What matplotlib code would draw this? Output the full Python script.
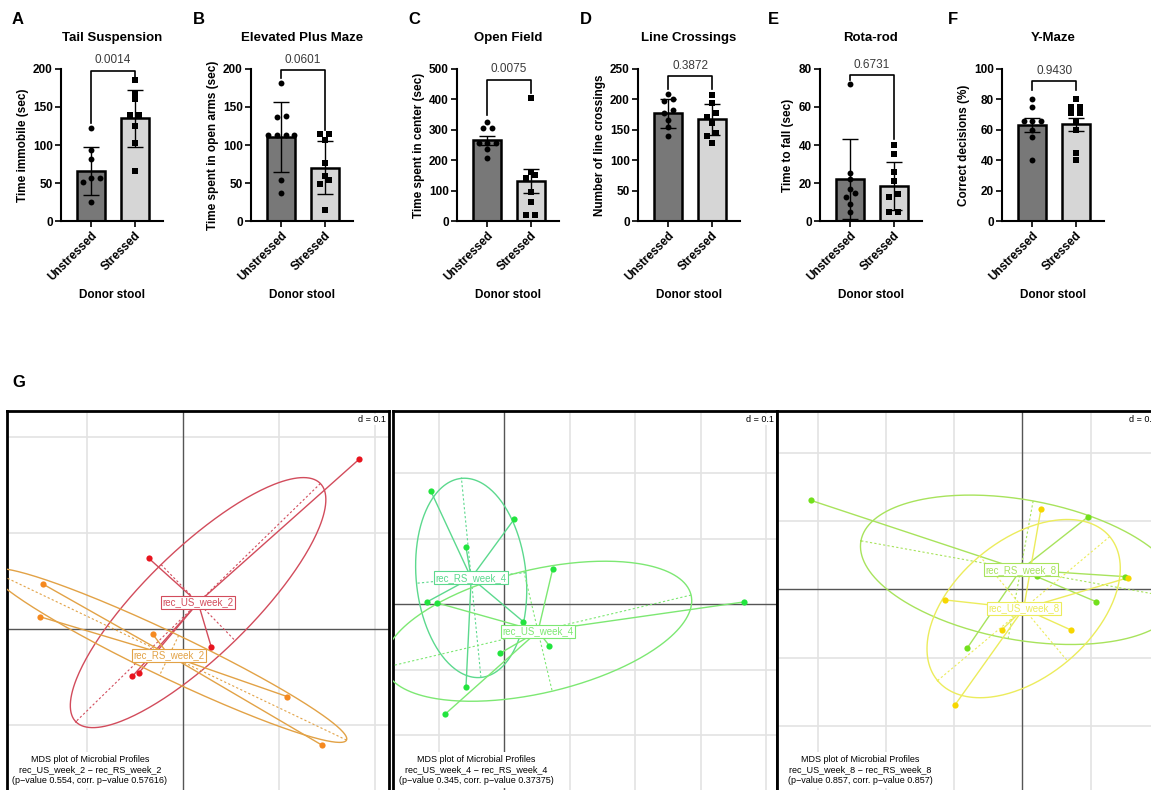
import numpy as np
import matplotlib.pyplot as plt

plt.rcParams['font.family'] = ['Liberation Sans', 'DejaVu Sans']

W, H = 1151, 790
fig = plt.figure(figsize=(W / 100, H / 100), dpi=100)


def px_box(l, t, r, b):
    return [l / W, 1 - b / H, (r - l) / W, (b - t) / H]


# ---------------- behaviour bar charts (A-F) ----------------
groups = ['Unstressed', 'Stressed']
letters = ['A', 'B', 'C', 'D', 'E', 'F']
titles = ['Tail Suspension', 'Elevated Plus Maze', 'Open Field',
          'Line Crossings', 'Rota-rod', 'Y-Maze']
ylabels = ['Time immobile (sec)', 'Time spent in open arms (sec)',
           'Time spent in center (sec)', 'Number of line crossings',
           'Time to fall (sec)', 'Correct decisions (%)']
ymaxes = [200, 200, 500, 250, 80, 100]
ysteps = [50, 50, 100, 50, 20, 20]
pvals = ['0.0014', '0.0601', '0.0075', '0.3872', '0.6731', '0.9430']

unstressed_pts = [
    [122, 94, 82, 56, 56, 51, 25],
    [181, 138, 137, 113, 113, 113, 113, 54, 37],
    [327, 305, 305, 255, 255, 255, 236, 206],
    [209, 201, 197, 182, 177, 166, 155, 140],
    [72, 25, 22, 17, 14.5, 12.5, 9, 5],
    [80, 75, 66, 66, 66, 60, 55, 40],
]
stressed_pts = [
    [186, 167, 160, 140, 140, 125, 102, 66],
    [115, 115, 107, 76, 59, 54, 49, 15],
    [404, 162, 151, 140, 96, 63, 19, 19],
    [208, 194, 177, 171, 161, 145, 140, 128],
    [40, 35, 26, 21, 14, 12.7, 5, 5],
    [80, 75, 75, 71, 71, 66, 60, 45, 40],
]
unstressed_mean = [66, 111, 265, 177, 22, 63]
stressed_mean = [135, 70, 132, 167, 18.5, 63.5]
unstressed_err = [32, 46, 15, 24, 21, 4.5]
stressed_err = [37, 35, 39, 26, 12.5, 4.5]
bracket_top = [198, 199, 465, 238, 77, 92]
bracket_left = [129, 188, 349, 217, 74, 86]
bracket_right = [190, 120, 420, 217, 43, 86]

axis_left_px = [61, 251, 457, 638, 820, 1002]
letter_x_px = [12, 193, 408, 580, 768, 948]


def spread(vals, ymax, step=0.2):
    # prism-like scatter: values that sit on top of each other are put side by side
    vals = np.asarray(vals, dtype=float)
    offs = np.zeros(len(vals))
    order = np.argsort(vals)
    tol = ymax * 0.03
    grp = [order[0]]
    for i in order[1:]:
        if vals[i] - vals[grp[0]] < tol:
            grp.append(i)
        else:
            offs[grp] = (np.arange(len(grp)) - (len(grp) - 1) / 2) * step
            grp = [i]
    offs[grp] = (np.arange(len(grp)) - (len(grp) - 1) / 2) * step
    return offs


for i in range(6):
    l = axis_left_px[i]
    ax = fig.add_axes(px_box(l, 69, l + 102, 221))
    ax.bar([0, 1], [unstressed_mean[i], stressed_mean[i]], width=0.64,
           color=['#787878', '#d6d6d6'], edgecolor='black', linewidth=1.8, zorder=2)
    ax.errorbar([0, 1], [unstressed_mean[i], stressed_mean[i]],
                yerr=[unstressed_err[i], stressed_err[i]], fmt='none',
                ecolor='black', elinewidth=1.0, capsize=5.5, capthick=1.0, zorder=3)
    u = unstressed_pts[i]
    s = stressed_pts[i]
    ax.scatter(0 + spread(u, ymaxes[i]), u, marker='o', s=18, color='black',
               linewidths=0, zorder=4, clip_on=False)
    ax.scatter(1 + spread(s, ymaxes[i]), s, marker='s', s=15, color='black',
               linewidths=0, zorder=4, clip_on=False)
    ax.plot([0, 0, 1, 1], [bracket_left[i], bracket_top[i], bracket_top[i], bracket_right[i]],
            color='black', lw=1.2, clip_on=False, zorder=5)
    ax.annotate(pvals[i], xy=(0.5, bracket_top[i]), xytext=(0, 3),
                textcoords='offset points', ha='center', va='bottom',
                fontsize=8.5, color='#3a3a3a', annotation_clip=False)
    ax.set_xlim(-0.7, 1.65)
    ax.set_ylim(0, ymaxes[i])
    ax.set_yticks(np.arange(0, ymaxes[i] + 1, ysteps[i]))
    ax.set_xticks([0, 1])
    ax.set_xticklabels(groups, rotation=45, ha='right', rotation_mode='anchor',
                       fontweight='bold', fontsize=8.5)
    for lab in ax.get_yticklabels():
        lab.set_fontweight('bold')
        lab.set_fontsize(8.5)
    ax.tick_params(direction='out', length=4, width=1.2, pad=2)
    ax.spines['top'].set_visible(False)
    ax.spines['right'].set_visible(False)
    ax.spines['left'].set_linewidth(1.5)
    ax.spines['bottom'].set_linewidth(1.5)
    ax.set_ylabel(ylabels[i], fontsize=8.5, fontweight='bold', labelpad=3)
    cx = (l + 51) / W
    fig.text(cx, 1 - 38 / H, titles[i], ha='center', va='center',
             fontsize=9.5, fontweight='bold')
    fig.text(cx, 1 - 295 / H, 'Donor stool', ha='center', va='center',
             fontsize=8.5, fontweight='bold')
    fig.text(letter_x_px[i] / W, 1 - 20 / H, letters[i], ha='left', va='center',
             fontsize=12, fontweight='bold')

fig.text(12 / W, 1 - 383 / H, 'G', ha='left', va='center', fontsize=12, fontweight='bold')

# ---------------- MDS plots (G) ----------------
us2_x = [0.183, -0.036, 0.029, -0.046, -0.053]
us2_y = [0.177, 0.074, -0.018, -0.045, -0.049]
rs2_x = [-0.146, -0.149, -0.032, 0.108, 0.145]
rs2_y = [0.047, 0.013, -0.005, -0.070, -0.121]

rs4_x = [-0.1125, -0.0585, 0.0153, -0.1181, -0.0585, 0.029]
rs4_y = [0.1735, 0.0875, 0.1303, 0.0036, -0.1267, -0.0265]
us4_x = [0.0738, -0.1023, 0.0687, -0.0066, -0.0906, 0.3659]
us4_y = [0.0534, 0.002, -0.0631, -0.0748, -0.1679, 0.0036]

rs8_x = [-0.3105, 0.0968, 0.1506, 0.021, 0.1081, -0.0807]
rs8_y = [0.1306, 0.1066, 0.0186, 0.020, -0.0181, -0.0861]
us8_x = [0.0274, 0.1555, -0.1134, -0.0303, 0.0714, -0.0988]
us8_y = [0.1178, 0.0171, -0.0156, -0.0597, -0.0597, -0.1697]

mds_pvals = ['(p\u2212value 0.554, corr. p\u2212value 0.57616)',
             '(p\u2212value 0.345, corr. p\u2212value 0.37375)',
             '(p\u2212value 0.857, corr. p\u2212value 0.857)']
mds_weeks = ['2', '4', '8']

# panel frame in pixels (left, right) and origin / scale of the data
panel_lr = [(7, 389), (393, 777), (777, 1160)]
panel_origin = [(183.3, 629.3), (504.3, 604.3), (1022.3, 589.3)]
panel_scale = [960, 655, 682]

mds_groups = [
    [(us2_x, us2_y, '#e8141e', '#d24c5c', 'rec_US_week_2'),
     (rs2_x, rs2_y, '#f5891f', '#e2a246', 'rec_RS_week_2')],
    [(rs4_x, rs4_y, '#22e43e', '#5cd98e', 'rec_RS_week_4'),
     (us4_x, us4_y, '#22e43e', '#7de873', 'rec_US_week_4')],
    [(rs8_x, rs8_y, '#72e01c', '#a8e35c', 'rec_RS_week_8'),
     (us8_x, us8_y, '#f6d600', '#ecec5c', 'rec_US_week_8')],
]


def draw_group(ax, xs, ys, pt_color, line_color, label):
    xs = np.asarray(xs)
    ys = np.asarray(ys)
    cx, cy = xs.mean(), ys.mean()
    for x, y in zip(xs, ys):
        ax.plot([cx, x], [cy, y], color=line_color, lw=1.0, zorder=3)
    cov = np.cov(np.vstack([xs, ys]), bias=True)
    vals, vecs = np.linalg.eigh(cov)
    a, b = 1.5 * np.sqrt(vals[1]), 1.5 * np.sqrt(vals[0])
    u, v = vecs[:, 1], vecs[:, 0]
    t = np.linspace(0, 2 * np.pi, 300)
    ex = cx + a * np.cos(t) * u[0] + b * np.sin(t) * v[0]
    ey = cy + a * np.cos(t) * u[1] + b * np.sin(t) * v[1]
    ax.plot(ex, ey, color=line_color, lw=1.0, zorder=3)
    ax.plot([cx - a * u[0], cx + a * u[0]], [cy - a * u[1], cy + a * u[1]],
            color=line_color, lw=0.8, ls=(0, (2, 2)), zorder=3)
    ax.plot([cx - b * v[0], cx + b * v[0]], [cy - b * v[1], cy + b * v[1]],
            color=line_color, lw=0.8, ls=(0, (2, 2)), zorder=3)
    ax.scatter(xs, ys, s=20, color=pt_color, linewidths=0, zorder=4)
    ax.text(cx, cy, label, fontsize=7, color=line_color, ha='center', va='center',
            bbox=dict(boxstyle='square,pad=0.15', fc='white', ec=line_color, lw=0.8),
            zorder=5)


for k in range(3):
    l, r = panel_lr[k]
    ox, oy = panel_origin[k]
    sc = panel_scale[k]
    ax = fig.add_axes(px_box(l, 411, r, 800))
    ax.set_xlim((l - ox) / sc, (r - ox) / sc)
    ax.set_ylim((oy - 800) / sc, (oy - 411) / sc)
    ax.set_xticks([])
    ax.set_yticks([])
    for sp in ax.spines.values():
        sp.set_linewidth(2)
    x0, x1 = ax.get_xlim()
    y0, y1 = ax.get_ylim()
    for j in range(-5, 6):
        g = j / 10
        if j != 0 and x0 < g < x1:
            ax.axvline(g, color='#e3e3e3', lw=1.2, zorder=0)
        if j != 0 and y0 < g < y1:
            ax.axhline(g, color='#e3e3e3', lw=1.2, zorder=0)
    ax.axvline(0, color='#555555', lw=1.0, zorder=1)
    ax.axhline(0, color='#555555', lw=1.0, zorder=1)
    for grp in mds_groups[k]:
        draw_group(ax, *grp)
    ax.annotate('d = 0.1', xy=(1, 1), xycoords='axes fraction', xytext=(-2, -3),
                textcoords='offset points', ha='right', va='top', fontsize=6.5,
                bbox=dict(boxstyle='square,pad=0.1', fc='white', ec='none'), zorder=6)
    wk = mds_weeks[k]
    txt = ('MDS plot of Microbial Profiles\n'
           'rec_US_week_' + wk + ' \u2212 rec_RS_week_' + wk + '\n' + mds_pvals[k])
    fig.text((l + 83) / W, 1 - 770 / H, txt, ha='center', va='center', fontsize=6.5,
             linespacing=1.2, zorder=10,
             bbox=dict(boxstyle='square,pad=0.3', fc='white', ec='none'))

fig.savefig('out.png', dpi=100)
